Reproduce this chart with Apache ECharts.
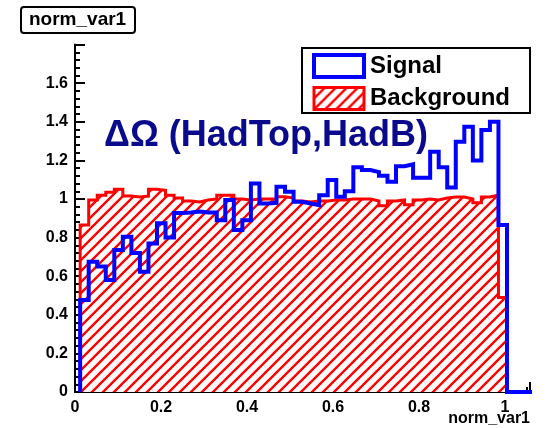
<!DOCTYPE html>
<html>
<head>
<meta charset="utf-8">
<script src="https://cdn.jsdelivr.net/npm/echarts@6/dist/echarts.min.js"></script>
<style>
html,body{margin:0;padding:0;background:#fff;}
#chart{width:546px;height:428px;}
</style>
</head>
<body>
<div id="chart"></div>
<script>
// Histogram binning
const binStart = 0.012;
const binWidth = 0.01985;
// Signal (blue outline) per bin
const signalValues = [0.477, 0.675, 0.65, 0.58, 0.736, 0.805, 0.72, 0.623, 0.77, 0.875,
  0.80, 0.927, 0.93, 0.935, 0.93, 0.93, 0.89, 0.995, 0.84, 0.89,
  1.08, 0.977, 0.98, 1.063, 1.037, 0.986, 0.977, 0.969, 1.02, 1.098,
  1.012, 1.04, 1.165, 1.15, 1.14, 1.12, 1.09, 1.17, 1.18, 1.11,
  1.11, 1.245, 1.165, 1.06, 1.297, 1.375, 1.20, 1.357, 1.40, 0.865,
  0, 0, 0];
// Background (red hatched) per bin
const backgroundValues = [0.865, 0.995, 1.02, 1.035, 1.05, 1.015, 1.01, 1.015, 1.05, 1.045,
  1.02, 1.005, 0.99, 0.985, 0.995, 1.0, 1.02, 1.02, 1.0, 0.995,
  1.0, 1.0, 1.0, 1.012, 1.005, 0.99, 0.985, 0.99, 0.99, 0.995,
  0.995, 1.0, 1.0, 1.0, 0.99, 0.965, 0.99, 0.995, 0.97, 0.995,
  1.0, 0.995, 1.005, 1.01, 1.01, 1.0, 0.98, 1.01, 1.02, 0.49,
  0, 0, 0];
const xTicks = [0, 0.2, 0.4, 0.6, 0.8, 1];
const yTicks = [0, 0.2, 0.4, 0.6, 0.8, 1, 1.2, 1.4, 1.6];
const seriesNames = ['Signal', 'Background'];
const histTitle = 'norm_var1';
const xTitle = 'norm_var1';
const annotation = '\u0394\u03A9 (HadTop,HadB)';

function stepPoints(vals) {
  const pts = [[binStart, 0]];
  for (let i = 0; i < vals.length; i++) pts.push([binStart + i * binWidth, vals[i]]);
  pts.push([binStart + vals.length * binWidth, 0]);
  return pts;
}

function hatch() {
  const s = 11;
  const c = document.createElement('canvas');
  c.width = s; c.height = s;
  const g = c.getContext('2d');
  g.fillStyle = '#ffffff'; g.fillRect(0, 0, s, s);
  g.strokeStyle = '#ff0000'; g.lineWidth = 2.4;
  g.beginPath();
  g.moveTo(-2, s + 2); g.lineTo(s + 2, -2);
  g.moveTo(-2, 2); g.lineTo(2, -2);
  g.moveTo(s - 2, s + 2); g.lineTo(s + 2, s - 2);
  g.stroke();
  return { image: c, repeat: 'repeat' };
}
const pat = hatch();
const FONT = 'Liberation Sans, Arial, Helvetica, sans-serif';

const chart = echarts.init(document.getElementById('chart'), null, { renderer: 'canvas' });
chart.setOption({
  animation: false,
  backgroundColor: '#ffffff',
  title: [{
    text: histTitle, left: 21, top: 7,
    padding: [3, 9, 3, 8],
    borderColor: '#000', borderWidth: 2, borderRadius: 3,
    backgroundColor: '#fff',
    textStyle: { fontFamily: FONT, fontWeight: 'bold', fontSize: 19, lineHeight: 20, color: '#000' }
  }, {
    text: annotation, left: 104, top: 118,
    padding: 0,
    textStyle: { fontFamily: FONT, fontWeight: 'bold', fontSize: 36, lineHeight: 36, color: '#0a0a8c' }
  }, {
    text: xTitle, right: 16, top: 411,
    padding: 0,
    textStyle: { fontFamily: FONT, fontWeight: 'bold', fontSize: 16, lineHeight: 16, color: '#000' }
  }],
  legend: {
    orient: 'vertical', left: 302, top: 48,
    padding: [5, 20, 2, 10],
    itemGap: 7, itemWidth: 50, itemHeight: 22,
    borderColor: '#000', borderWidth: 2, backgroundColor: '#fff',
    textStyle: { fontFamily: FONT, fontWeight: 'bold', fontSize: 24, color: '#000', padding: [0, 0, 0, 1] },
    data: [
      { name: seriesNames[0], icon: 'rect', itemStyle: { color: '#fff', borderColor: '#0000ff', borderWidth: 4 } },
      { name: seriesNames[1], icon: 'rect', itemStyle: { color: pat, borderColor: '#ff0000', borderWidth: 3 } }
    ]
  },
  grid: { left: 75, right: 16, top: 44.6, bottom: 36, containLabel: false, outerBoundsMode: 'none' },
  xAxis: {
    type: 'value', min: 0, max: 1.058, interval: 0.2,
    axisLine: { onZero: false, lineStyle: { color: '#000', width: 2 } },
    axisTick: { inside: true, length: 10, lineStyle: { color: '#000', width: 2 } },
    minorTick: { show: true, splitNumber: 4, length: 5, lineStyle: { color: '#000', width: 2 } },
    splitLine: { show: false },
    axisLabel: {
      fontFamily: FONT, fontWeight: 'bold', fontSize: 16, color: '#000', margin: 8,
      showMaxLabel: false,
      formatter: v => (xTicks.some(t => Math.abs(t - v) < 1e-6) ? String(+v.toFixed(1)) : '')
    }
  },
  yAxis: {
    type: 'value', min: 0, max: 1.8, interval: 0.2,
    axisLine: { onZero: false, lineStyle: { color: '#000', width: 2 } },
    axisTick: { inside: true, length: 10, lineStyle: { color: '#000', width: 2 } },
    minorTick: { show: true, splitNumber: 5, length: 5, lineStyle: { color: '#000', width: 2 } },
    splitLine: { show: false },
    axisLabel: {
      fontFamily: FONT, fontWeight: 'bold', fontSize: 16, color: '#000', margin: 7,
      showMaxLabel: false,
      formatter: v => (yTicks.some(t => Math.abs(t - v) < 1e-6) ? String(+v.toFixed(1)) : '')
    }
  },
  series: [{
    name: seriesNames[1], type: 'line', step: 'end',
    data: stepPoints(backgroundValues),
    showSymbol: false, symbol: 'none', z: 2,
    lineStyle: { color: '#ff0000', width: 3, cap: 'butt', join: 'miter' },
    itemStyle: { color: '#ff0000' },
    areaStyle: { color: pat, opacity: 1, origin: 'start' }
  }, {
    name: seriesNames[0], type: 'line', step: 'end',
    data: stepPoints(signalValues),
    showSymbol: false, symbol: 'none', z: 3,
    lineStyle: { color: '#0000ff', width: 4, cap: 'butt', join: 'miter' },
    itemStyle: { color: '#0000ff' }
  }]
});
</script>
</body>
</html>
